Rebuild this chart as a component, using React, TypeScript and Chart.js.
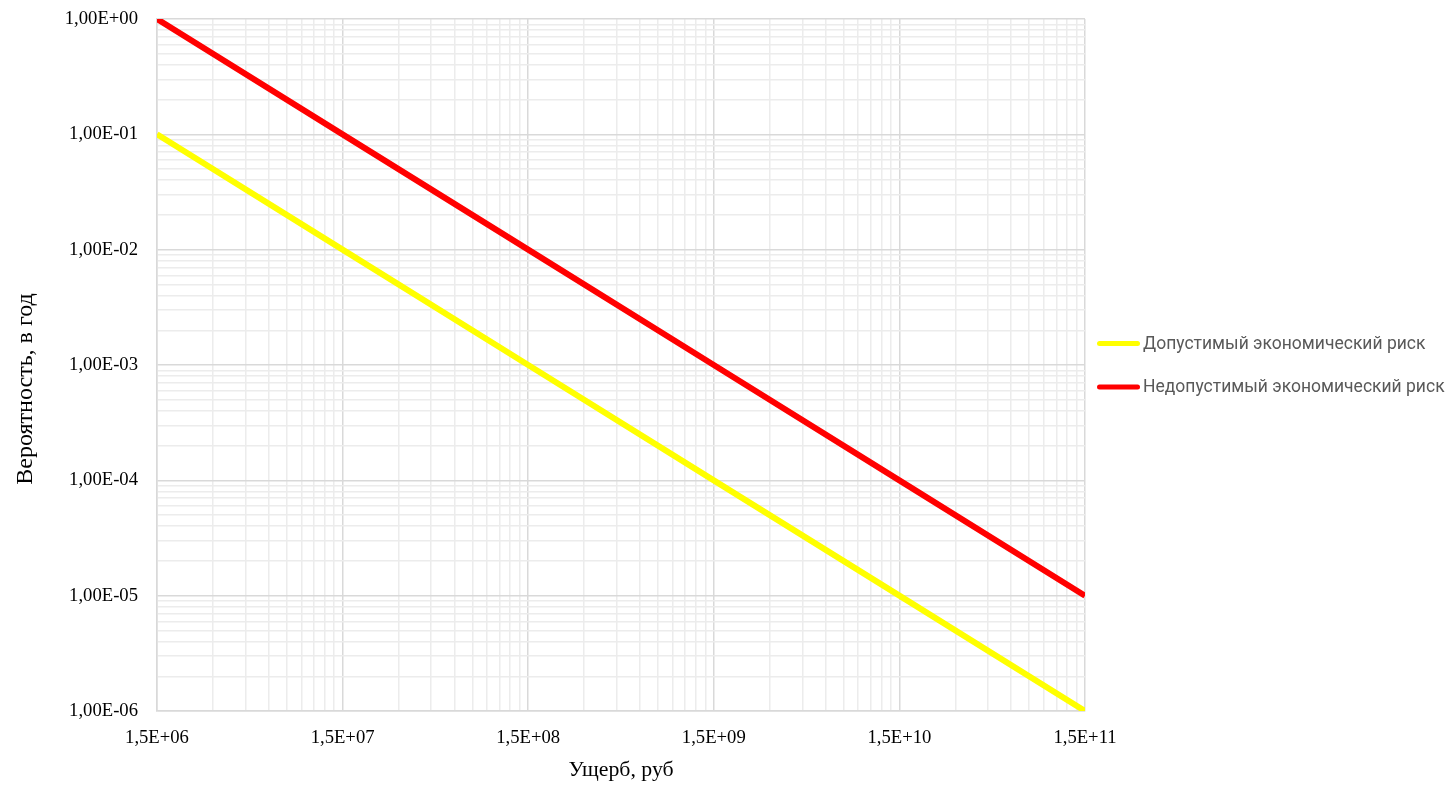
import React, { useEffect, useRef } from 'react';
import { Chart, registerables } from 'chart.js';

Chart.register(...registerables);

// ---- data ----
const xMajorTicks = [1.5e6, 1.5e7, 1.5e8, 1.5e9, 1.5e10, 1.5e11];
const xTickLabels = ['1,5E+06', '1,5E+07', '1,5E+08', '1,5E+09', '1,5E+10', '1,5E+11'];
const yMajorTicks = [1e-6, 1e-5, 1e-4, 1e-3, 1e-2, 1e-1, 1e0];
const yTickLabels = ['1,00E-06', '1,00E-05', '1,00E-04', '1,00E-03', '1,00E-02', '1,00E-01', '1,00E+00'];
const minorMultipliers = [2, 3, 4, 5, 6, 7, 8, 9];

const damage = [1.5e6, 1.5e7, 1.5e8, 1.5e9, 1.5e10, 1.5e11];
const acceptableRisk = [1e-1, 1e-2, 1e-3, 1e-4, 1e-5, 1e-6];
const unacceptableRisk = [1e0, 1e-1, 1e-2, 1e-3, 1e-4, 1e-5];
const seriesNames = ['Допустимый экономический риск', 'Недопустимый экономический риск'];
const seriesColors = ['#FFFF00', '#FF0000'];

const xTitle = 'Ущерб, руб';
const yTitle = 'Вероятность, в год';

function buildTicks(majors: number[]) {
  const out: { value: number; major: boolean }[] = [];
  majors.forEach((m, i) => {
    out.push({ value: m, major: true });
    if (i < majors.length - 1) {
      minorMultipliers.forEach((k) => out.push({ value: m * k, major: false }));
    }
  });
  return out;
}

const xTicksAll = buildTicks(xMajorTicks);
const yTicksAll = buildTicks(yMajorTicks);

function labelFor(value: number, majors: number[], labels: string[]) {
  for (let i = 0; i < majors.length; i++) {
    if (Math.abs(value / majors[i] - 1) < 1e-9) return labels[i];
  }
  return '';
}

function isMajor(value: number, majors: number[]) {
  return majors.some((m) => Math.abs(value / m - 1) < 1e-9);
}

const MAJOR_GRID = '#d9d9d9';
const MINOR_GRID = '#ececec';
const SERIF = '"Liberation Serif", "Times New Roman", serif';

const sideLegend = {
  id: 'sideLegend',
  afterDraw(chart: any) {
    const { ctx, chartArea } = chart;
    const cy = (chartArea.top + chartArea.bottom) / 2;
    chart.data.datasets.forEach((ds: any, i: number) => {
      const y = cy - 21.5 + i * 43.5;
      ctx.save();
      ctx.strokeStyle = ds.borderColor;
      ctx.lineWidth = 5;
      ctx.lineCap = 'round';
      ctx.beginPath();
      ctx.moveTo(chartArea.right + 14.5, y);
      ctx.lineTo(chartArea.right + 52.5, y);
      ctx.stroke();
      ctx.fillStyle = '#595959';
      ctx.font = '17.5px Roboto';
      ctx.textBaseline = 'middle';
      ctx.textAlign = 'left';
      ctx.fillText(ds.label, chartArea.right + 58, y + 1);
      ctx.restore();
    });
  },
};

const yAxisTitle = {
  id: 'yAxisTitle',
  afterDraw(chart: any) {
    const { ctx, chartArea } = chart;
    const cy = (chartArea.top + chartArea.bottom) / 2 + 24;
    ctx.save();
    ctx.translate(26, cy);
    ctx.rotate(-Math.PI / 2);
    ctx.fillStyle = '#000';
    ctx.font = `24px ${SERIF}`;
    ctx.textAlign = 'center';
    ctx.textBaseline = 'middle';
    ctx.fillText(yTitle, 0, 0);
    ctx.restore();
  },
};

export default function App() {
  const canvasRef = useRef<HTMLCanvasElement | null>(null);

  useEffect(() => {
    document.body.style.margin = '0';
    const canvas = canvasRef.current;
    if (!canvas) return;

    const chart = new Chart(canvas, {
      type: 'line',
      data: {
        datasets: [
          {
            label: seriesNames[0],
            data: damage.map((x, i) => ({ x, y: acceptableRisk[i] })),
            borderColor: seriesColors[0],
            backgroundColor: seriesColors[0],
            borderWidth: 6,
            pointRadius: 0,
            tension: 0,
          },
          {
            label: seriesNames[1],
            data: damage.map((x, i) => ({ x, y: unacceptableRisk[i] })),
            borderColor: seriesColors[1],
            backgroundColor: seriesColors[1],
            borderWidth: 6,
            pointRadius: 0,
            tension: 0,
          },
        ],
      },
      options: {
        animation: false,
        responsive: false,
        devicePixelRatio: 1,
        layout: { padding: { left: 0, top: 19, right: 365, bottom: 0 } },
        plugins: {
          legend: { display: false },
          tooltip: { enabled: false },
        },
        scales: {
          x: {
            type: 'logarithmic',
            min: xMajorTicks[0],
            max: xMajorTicks[xMajorTicks.length - 1],
            afterBuildTicks: (scale: any) => {
              scale.ticks = xTicksAll.map((t) => ({ value: t.value, major: t.major }));
            },
            afterFit: (scale: any) => {
              scale.height = 75;
              scale.paddingLeft = 0;
              scale.paddingRight = 0;
            },
            ticks: {
              autoSkip: false,
              maxRotation: 0,
              minRotation: 0,
              padding: 16,
              color: '#000',
              font: { family: SERIF, size: 18.67 },
              callback: (value: any) => labelFor(Number(value), xMajorTicks, xTickLabels),
            },
            grid: {
              drawTicks: false,
              color: (ctx: any) => (ctx.tick && isMajor(ctx.tick.value, xMajorTicks) ? MAJOR_GRID : MINOR_GRID),
              lineWidth: 1.5,
            },
            border: { display: true, color: MAJOR_GRID, width: 1.5 },
            title: {
              display: true,
              text: xTitle,
              color: '#000',
              font: { family: SERIF, size: 21.8 },
              padding: { top: 3, bottom: 3 },
            },
          },
          y: {
            type: 'logarithmic',
            min: yMajorTicks[0],
            max: yMajorTicks[yMajorTicks.length - 1],
            afterBuildTicks: (scale: any) => {
              scale.ticks = yTicksAll.map((t) => ({ value: t.value, major: t.major }));
            },
            afterFit: (scale: any) => {
              scale.width = 157;
              scale.paddingTop = 0;
              scale.paddingBottom = 0;
            },
            ticks: {
              autoSkip: false,
              padding: 19,
              color: '#000',
              font: { family: SERIF, size: 18.67 },
              callback: (value: any) => labelFor(Number(value), yMajorTicks, yTickLabels),
            },
            grid: {
              drawTicks: false,
              color: (ctx: any) => (ctx.tick && isMajor(ctx.tick.value, yMajorTicks) ? MAJOR_GRID : MINOR_GRID),
              lineWidth: 1.5,
            },
            border: { display: true, color: MAJOR_GRID, width: 1.5 },
            title: { display: false },
          },
        },
      },
      plugins: [sideLegend, yAxisTitle],
    } as any);

    return () => {
      chart.destroy();
    };
  }, []);

  return (
    <div style={{ width: 1450, height: 786 }}>
      <canvas ref={canvasRef} width={1450} height={786} style={{ display: 'block' }} />
    </div>
  );
}
